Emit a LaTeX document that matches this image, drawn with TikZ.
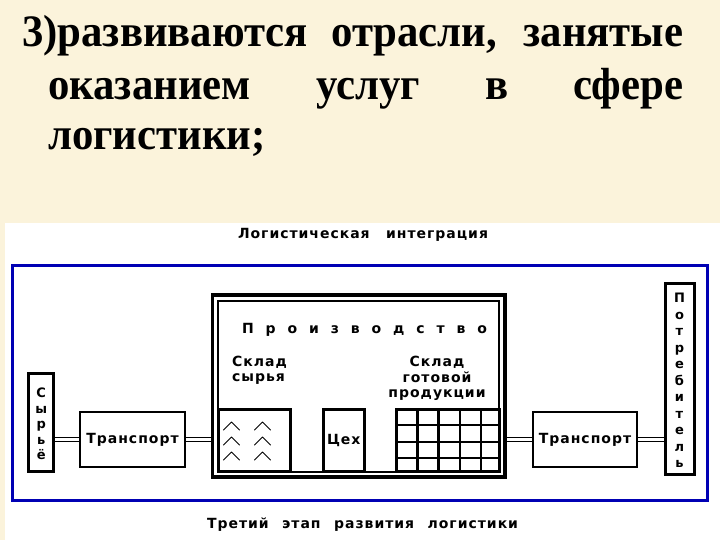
\documentclass[tikz,border=0pt]{standalone}
\usepackage{fontspec}
\usetikzlibrary{backgrounds}
\newfontfamily\titlefont{Liberation Serif}[FakeStretch=0.95]
\newfontfamily\dfont{DejaVu Sans}[LetterSpace=7]
\definecolor{cream}{RGB}{251,243,219}
\definecolor{frameblue}{RGB}{0,0,180}
\tikzset{
  box/.style={draw=black,fill=white,inner sep=0pt,line width=#1},
  box/.default=3pt,
  dtxt/.style={font=\dfont\bfseries\fontsize{14}{15.5}\selectfont,inner sep=0pt},
  ttl/.style={font=\titlefont\bfseries\fontsize{45}{50}\selectfont,anchor=base west,inner sep=0pt},
  dbl/.style={draw=black,line width=1pt,double=white,double distance=3pt},
  chev/.style={line width=1pt,line cap=round,line join=round}
}
\begin{document}
\begin{tikzpicture}[x=1pt,y=-1pt]
\useasboundingbox (0,0) rectangle (720,540);
% title
\node[ttl] (l1) at (22,47) {\makebox[661pt][s]{3)развиваются отрасли, занятые}};
\node[ttl] (l2) at (48,100) {\makebox[635pt][s]{оказанием услуг в сфере}};
\node[ttl] (l3) at (48,150) {логистики;};
% diagram texts
\node[dtxt] (ti) at (363,235) {\makebox[250pt][s]{Логистическая интеграция}};
\node[dtxt] (bt) at (362.5,525) {\makebox[311pt][s]{Третий этап развития логистики}};
% boxes
\node[box=3.5pt,minimum width=292.5pt,minimum height=182pt,fill=none] (po) at (358.75,386) {};
\node[box=2pt,minimum width=281pt,minimum height=170.5pt] (pi) at (358.5,386.25) {};
\node[box=3pt,minimum width=25.5pt,minimum height=98.5pt] (syr) at (41.2,422.7) {};
\node[box=2pt,minimum width=105pt,minimum height=55pt,dtxt] (tr1) at (132.5,439.5) {Транспорт};
\node[box=3pt,minimum width=72.5pt,minimum height=62.5pt] (raw) at (254.25,440.25) {};
\node[box=3pt,minimum width=41.5pt,minimum height=62.5pt,dtxt] (cex) at (343.75,440.25) {Цех};
\node[box=3pt,minimum width=103pt,minimum height=62.5pt] (grid) at (447.5,440.25) {};
\node[box=2pt,minimum width=104pt,minimum height=55pt,dtxt] (tr2) at (585,439.5) {Транспорт};
\node[box=3pt,minimum width=29pt,minimum height=190.5pt] (potr) at (679.5,378.75) {};
% vertical words
\node[dtxt,align=center,font=\dfont\bfseries\fontsize{13}{15.5}\selectfont] (syrt) at (41.2,424) {С\\ы\\р\\ь\\ё};
\node[dtxt,align=center,font=\dfont\bfseries\fontsize{13}{16.5}\selectfont] (potrt) at (679.5,380.5) {П\\о\\т\\р\\е\\б\\и\\т\\е\\л\\ь};
% production labels
\node[dtxt] (prt) at (364.5,330) {\makebox[245pt][s]{П р о и з в о д с т в о}};
\node[dtxt,align=left,anchor=west] (sks) at (232,370.5) {Склад\\сырья};
\node[dtxt,align=center] (skg) at (437,378.5) {Склад\\готовой\\продукции};
% grid lines
\foreach \gx in {417.5,438.5,460,481}
  \draw[line width=2.5pt] (\gx,409) -- (\gx,471.5);
\foreach \gy in {425,442,458}
  \draw[line width=1.2pt] (396,\gy) -- (499,\gy);
% chevrons
\foreach \cx in {231.5,262.5}
  \foreach \cy in {422,437,452}
    \draw[chev] (\cx-8,\cy+8) -- (\cx,\cy) -- (\cx+8,\cy+8);
% background layer
\begin{scope}[on background layer]
  \fill[cream] (0,0) rectangle (720,540);
  \fill[white] (5,223) rectangle (720,540);
  \draw[frameblue,line width=3pt] (12.5,265) rectangle (707.5,500);
  \draw[dbl] (tr1.west -| syr.east) -- (tr1.west);
  \draw[dbl] (tr1.east) -- (tr1.east -| po.west);
  \draw[dbl] (raw.east) -- (cex.west);
  \draw[dbl] (cex.east) -- (grid.west);
  \draw[dbl] (tr2.west -| po.east) -- (tr2.west);
  \draw[dbl] (tr2.east) -- (tr2.east -| potr.west);
\end{scope}
\end{tikzpicture}
\end{document}
